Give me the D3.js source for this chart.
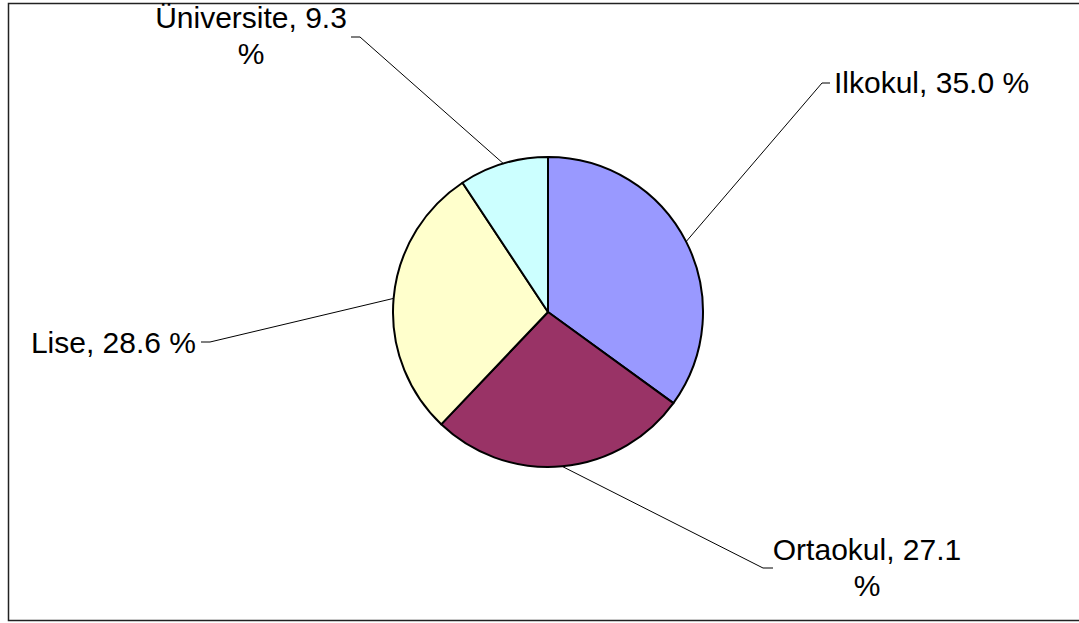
<!DOCTYPE html>
<html>
<head>
<meta charset="utf-8">
<script src="https://cdn.jsdelivr.net/npm/d3@7"></script>
<style>
  html, body { margin: 0; padding: 0; background: #fff; }
  svg { display: block; }
</style>
</head>
<body>
<svg id="chart" width="1079" height="623"></svg>
<script>
// ---- data ----
const categories = ["Ilkokul", "Ortaokul", "Lise", "Üniversite"];
const values = [35.0, 27.1, 28.6, 9.3];
const colors = ["#9999FF", "#993366", "#FFFFCC", "#CCFFFF"];

// ---- layout (label placement, not data) ----
const labelLayout = [
  { elbow: [822, 83], end: [830, 83], anchor: "start", x: 834, y: [93], lines: 1 },
  { elbow: [763, 568], end: [773, 568], anchor: "middle", x: 867, y: [560, 596], lines: 2 },
  { elbow: [210, 342], end: [201, 342], anchor: "end", x: 196, y: [353], lines: 1 },
  { elbow: [360, 37], end: [351, 37], anchor: "middle", x: 251, y: [28, 64], lines: 2 }
];

const svg = d3.select("#chart");
const cx = 548, cy = 312, r = 155;

// frame
svg.append("rect")
  .attr("x", 8.5).attr("y", 3.5)
  .attr("width", 1100).attr("height", 617)
  .attr("fill", "none").attr("stroke", "#222").attr("stroke-width", 1.5);

const data = categories.map((c, i) => ({ name: c, value: values[i], color: colors[i] }));
const pie = d3.pie().sort(null).value(d => d.value);
const arcs = pie(data);
const arc = d3.arc().innerRadius(0).outerRadius(r);

const g = svg.append("g").attr("transform", `translate(${cx},${cy})`);
g.selectAll("path.slice").data(arcs).join("path")
  .attr("class", "slice")
  .attr("d", arc)
  .attr("fill", d => d.data.color)
  .attr("stroke", "#000")
  .attr("stroke-width", 2)
  .attr("stroke-linejoin", "round");

// leader lines and labels
arcs.forEach((a, i) => {
  const L = labelLayout[i];
  const mid = (a.startAngle + a.endAngle) / 2;
  const px = cx + r * Math.sin(mid);
  const py = cy - r * Math.cos(mid);
  svg.append("polyline")
    .attr("points", [[px, py], L.elbow, L.end].map(p => p.join(",")).join(" "))
    .attr("fill", "none").attr("stroke", "#000").attr("stroke-width", 1);

  const full = `${a.data.name}, ${a.data.value.toFixed(1)} %`;
  const lines = L.lines === 2
    ? [`${a.data.name}, ${a.data.value.toFixed(1)}`, "%"]
    : [full];
  const t = svg.append("text")
    .attr("text-anchor", L.anchor)
    .attr("font-family", "Liberation Sans, Arial, sans-serif")
    .attr("font-size", 30)
    .attr("fill", "#000");
  lines.forEach((ln, k) => {
    t.append("tspan").attr("x", L.x).attr("y", L.y[k]).text(ln);
  });
});
</script>
</body>
</html>
